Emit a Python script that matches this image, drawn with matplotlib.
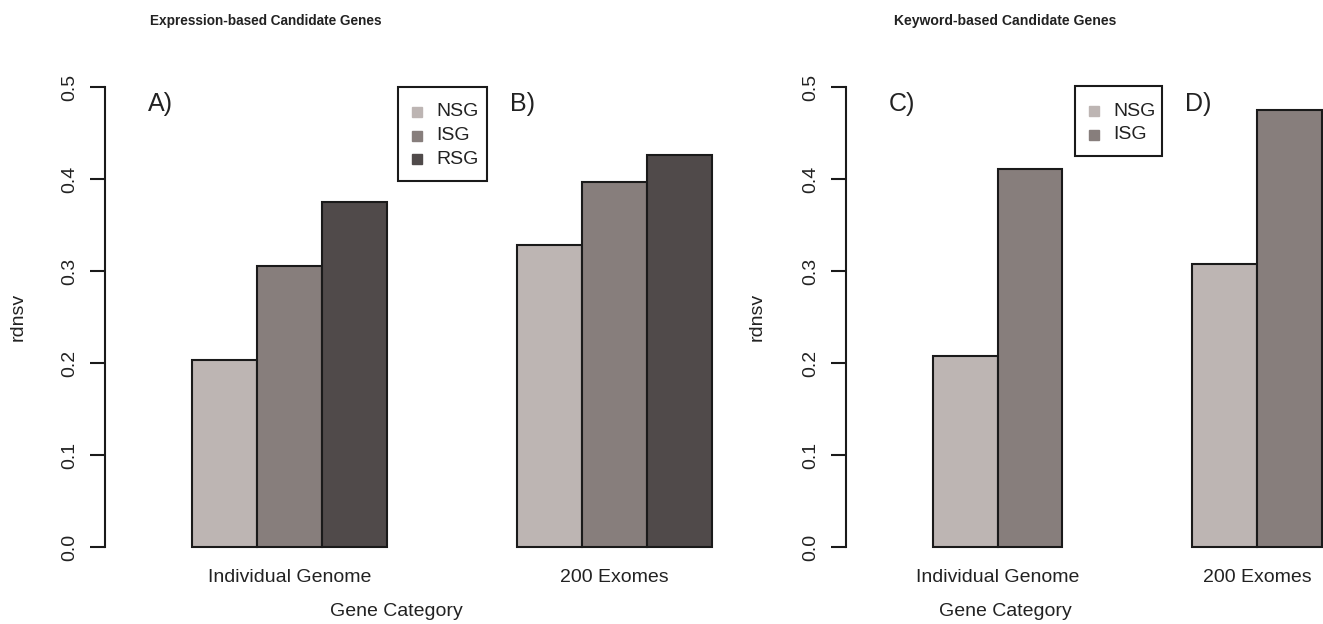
import matplotlib
matplotlib.use("Agg")
import matplotlib.pyplot as plt
from matplotlib.lines import Line2D
from matplotlib.patches import Rectangle

plt.rcParams["font.family"] = ["Liberation Sans", "DejaVu Sans"]

categories = ["Individual Genome", "200 Exomes"]
expr_series = ["NSG", "ISG", "RSG"]
expr_nsg = [0.203, 0.328]
expr_isg = [0.305, 0.397]
expr_rsg = [0.375, 0.426]
kw_series = ["NSG", "ISG"]
kw_nsg = [0.208, 0.308]
kw_isg = [0.411, 0.475]
yticks = [0.0, 0.1, 0.2, 0.3, 0.4, 0.5]

colors = {"NSG": "#bdb5b3", "ISG": "#877e7c", "RSG": "#504a4a"}
edge = "#1a1a1a"
ink = "#222222"

W, H = 1323, 624
fig = plt.figure(figsize=(W / 100, H / 100), dpi=100)


def fx(x):
    return x / W


def fy(y):
    return 1 - y / H


def panel(left_px, unit_px, series, values):
    width_px = 640
    ax = fig.add_axes([fx(left_px), fy(547), width_px / W, (547 - 87) / H])
    x0 = -0.34
    ax.set_xlim(x0, x0 + width_px / unit_px)
    ax.set_ylim(0, 0.5)

    n = len(series)
    starts = [1, 1 + n + 2]
    for j, name in enumerate(series):
        xs = [s + j + 0.5 for s in starts]
        ax.bar(xs, values[j], width=1.0, color=colors[name], edgecolor=edge,
               linewidth=1.5, clip_on=False)

    for s in ("top", "right", "bottom"):
        ax.spines[s].set_visible(False)
    ax.spines["left"].set_linewidth(1.5)
    ax.spines["left"].set_color(edge)
    ax.spines["left"].set_bounds(0, 0.5)
    ax.set_yticks(yticks)
    ax.set_yticklabels([f"{v:.1f}" for v in yticks], rotation=90, va="center")
    ax.tick_params(axis="y", length=11, width=1.5, color=edge, pad=8,
                   labelsize=14, labelcolor=ink)
    ax.set_xticks([s + n / 2 for s in starts])
    ax.set_xticklabels(categories)
    ax.tick_params(axis="x", length=0, pad=16, labelsize=14, labelcolor=ink)
    return ax


def key(x_px, y_px, w_px, h_px, series):
    # boxed key: small squares with the series names beside them
    fig.add_artist(Rectangle((fx(x_px), fy(y_px + h_px)), w_px / W, h_px / H,
                             transform=fig.transFigure, facecolor="white",
                             edgecolor=edge, linewidth=1.5))
    for i, name in enumerate(series):
        yy = y_px + 25 + i * 23.5
        fig.add_artist(Line2D([fx(x_px + 19)], [fy(yy)], transform=fig.transFigure,
                              linestyle="none", marker="s", markersize=6.5,
                              markerfacecolor=colors[name],
                              markeredgecolor=colors[name]))
        fig.text(fx(x_px + 38), fy(yy), name, fontsize=14, ha="left",
                 va="center", color=ink)


ax1 = panel(105, 65.0, expr_series, [expr_nsg, expr_isg, expr_rsg])
ax2 = panel(846, 64.8, kw_series, [kw_nsg, kw_isg])

key(398, 87, 89, 94, expr_series)
key(1075, 86, 87, 70, kw_series)

# panel letters
for lab, x in (("A)", 160), ("B)", 522), ("C)", 902), ("D)", 1198)):
    fig.text(fx(x), fy(104), lab, fontsize=18, ha="center", va="center",
             color=ink)

# titles and axis labels
fig.text(fx(266), fy(21), "Expression-based Candidate Genes", fontsize=9.8,
         fontweight="bold", ha="center", va="center", color=ink)
fig.text(fx(1005), fy(21), "Keyword-based Candidate Genes", fontsize=10.1,
         fontweight="bold", ha="center", va="center", color=ink)
for x in (396, 1005):
    fig.text(fx(x), fy(611), "Gene Category", fontsize=14, ha="center",
             va="center", color=ink)
for x in (18, 757):
    fig.text(fx(x), fy(317), "rdnsv", fontsize=14, rotation=90, ha="center",
             va="center", color=ink)

fig.savefig("out.png", dpi=100)
